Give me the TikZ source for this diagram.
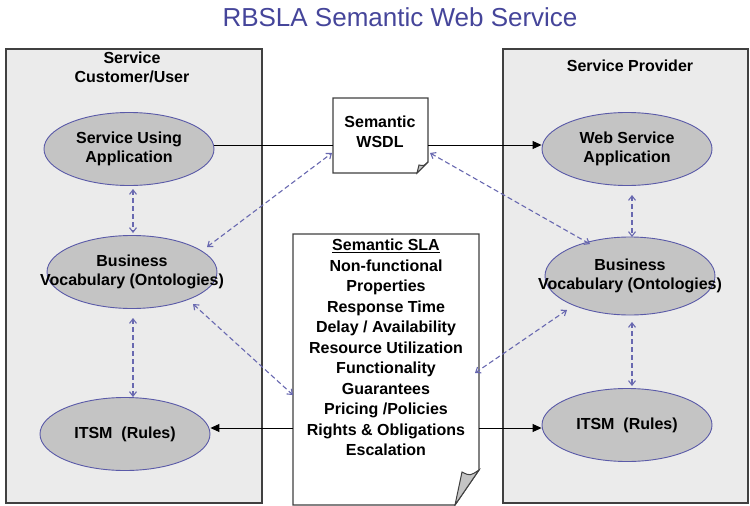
\documentclass[tikz,border=0pt]{standalone}
\usepackage{fontspec}
\setmainfont{Liberation Sans}
\usetikzlibrary{arrows.meta,shapes.geometric}
\definecolor{titleblue}{HTML}{45459A}
\definecolor{ellborder}{HTML}{5A5AA8}
\definecolor{ellfill}{HTML}{C4C4C4}
\definecolor{dashblue}{HTML}{6868B0}
\definecolor{boxfill}{HTML}{EBEBEB}
\definecolor{boxline}{HTML}{404040}
\tikzset{
  party/.style={draw=boxline, line width=1.3pt, fill=boxfill},
  ell/.style={ellipse, draw=ellborder, line width=0.9pt, fill=ellfill, minimum width=170pt, minimum height=73pt, inner sep=0pt, align=center, font=\fontsize{16}{19.5}\selectfont\bfseries},
  hdr/.style={align=center, font=\fontsize{16}{19}\selectfont\bfseries},
  docline/.style={draw=boxline, line width=1.2pt, fill=white},
  foldc/.style={draw=boxline, line width=1pt, fill=ellfill},
  dlink/.style={draw=dashblue, line width=1.1pt, dashed, dash pattern=on 5pt off 3pt, {Straight Barb[length=4.5pt,width=7pt]}-{Straight Barb[length=4.5pt,width=7pt]}},
  slink/.style={draw=black, line width=1pt},
  sarrow/.style={slink, -{Triangle[length=9pt,width=8pt]}}
}
\begin{document}
\begin{tikzpicture}[x=1pt,y=-1pt]
\useasboundingbox (0,0) rectangle (750,506);
% title
\node[text=titleblue, font=\fontsize{26}{30}\selectfont] (title) at (400,17) {RBSLA Semantic Web Service};
% party boxes
\path[party] (6,49) rectangle (262,503);
\path[party] (503,49) rectangle (748,503);
\node[hdr] (hcust) at (132,67) {Service\\Customer/User};
\node[hdr] (hprov) at (630,66) {Service Provider};
% ellipses
\node[ell] (sua) at (129,149) {Service Using\\Application};
\node[ell] (lbv) at (132,272) {Business\\\makebox[0pt][c]{Vocabulary (Ontologies)}};
\node[ell] (litsm) at (125,434) {ITSM\ \ (Rules)};
\node[ell] (wsa) at (627,149) {Web Service\\Application};
\node[ell, minimum height=78pt] (rbv) at (630,276) {Business\\\makebox[0pt][c]{Vocabulary (Ontologies)}};
\node[ell] (ritsm) at (627,425) {ITSM\ \ (Rules)};
% WSDL document
\path[docline] (333,98) -- (428,98) -- (428,162) -- (417,173) -- (333,173) -- cycle;
\path[foldc] (428,162) .. controls (424,166) .. (419,165) -- (417,173) -- cycle;
\node[align=center, font=\fontsize{16}{19.5}\selectfont\bfseries] (wsdl) at (380,132) {Semantic\\WSDL};
\coordinate (wsdlL) at (333,145);
\coordinate (wsdlR) at (428,145);
% SLA document
\path[docline] (293,234) -- (479,234) -- (479,470) -- (455,505) -- (293,505) -- cycle;
\path[foldc] (479,470) .. controls (470,476) .. (462,472) -- (455,505) -- cycle;
\node[align=center, inner sep=0pt, font=\fontsize{16}{20.5}\selectfont\bfseries] (sla) at (386,347.5) {\underline{Semantic SLA}\\Non-functional\\Properties\\Response Time\\Delay / Availability\\Resource Utilization\\Functionality\\Guarantees\\Pricing /Policies\\Rights \& Obligations\\Escalation};
\coordinate (slaL) at (293,428);
\coordinate (slaR) at (479,428);
% solid links
\draw[slink] (sua.east |- wsdlL) -- (wsdlL);
\draw[sarrow] (wsdlR) -- (wsa.west |- wsdlR);
\draw[sarrow] (slaL) -- (litsm.east |- slaL);
\draw[sarrow] (slaR) -- (ritsm.west |- slaR);
% dashed links
\coordinate (a1) at (133,189); \coordinate (a2) at (133,233);
\coordinate (b1) at (133,318); \coordinate (b2) at (133,397);
\coordinate (c1) at (632,195); \coordinate (c2) at (632,237);
\coordinate (d1) at (632,322); \coordinate (d2) at (632,386);
\coordinate (e1) at (207,247); \coordinate (e2) at (332,153);
\coordinate (f1) at (430,153); \coordinate (f2) at (590,244);
\coordinate (g1) at (193,304); \coordinate (g2) at (293,395);
\coordinate (h1) at (567,310); \coordinate (h2) at (475,373);
\draw[dlink] (a1) -- (a2);
\draw[dlink] (b1) -- (b2);
\draw[dlink] (c1) -- (c2);
\draw[dlink] (d1) -- (d2);
\draw[dlink] (e1) -- (e2);
\draw[dlink] (f1) -- (f2);
\draw[dlink] (g1) -- (g2);
\draw[dlink] (h1) -- (h2);
\end{tikzpicture}
\end{document}
